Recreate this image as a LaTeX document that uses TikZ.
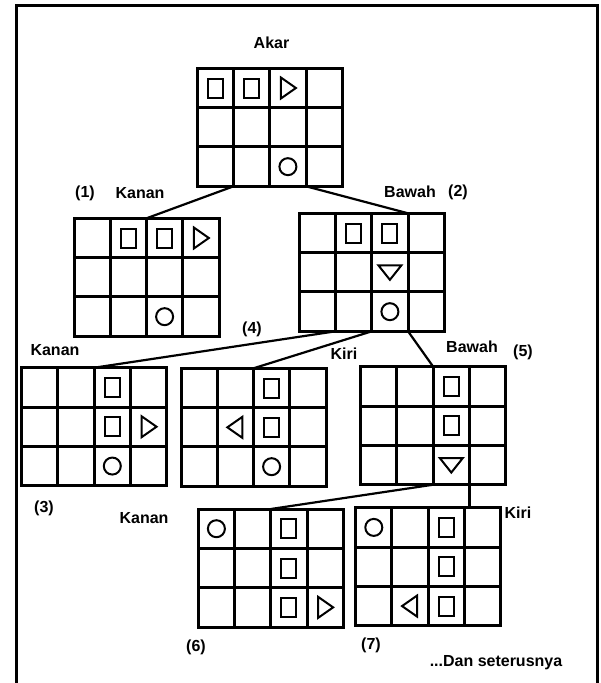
\documentclass[tikz,border=0pt]{standalone}
\usepackage{fontspec}
\setmainfont{Liberation Sans}
\tikzset{
  garis/.style={line width=2.2pt},
  petak/.style={line width=3pt},
  simbol/.style={line width=2pt},
  tulisan/.style={font=\fontsize{16}{19}\selectfont\bfseries, inner sep=0pt},
  papan/.pic={
    \draw[petak] (0,0) rectangle (145,118);
    \foreach \i in {1,2,3} \draw[petak] (\i*36.25,0) -- (\i*36.25,118);
    \foreach \j in {1,2} \draw[petak] (0,\j*39.33) -- (145,\j*39.33);
    \foreach \i in {0,...,4} {
      \coordinate (-t\i) at (\i*36.25,0);
      \coordinate (-b\i) at (\i*36.25,118);
    }
    \foreach \i in {0,...,3}
      \foreach \j in {0,1,2}
        \coordinate (-\i\j) at (\i*36.25+18.1,\j*39.33+19.7);
  },
  kotak/.pic={\draw[simbol] (-7.5,-9.5) rectangle (7.5,9.5);},
  bulat/.pic={\draw[simbol] (0,0) circle (8.5pt);},
  kekanan/.pic={\draw[simbol] (-7,-10.5) -- (8,0) -- (-7,10.5) -- cycle;},
  kekiri/.pic={\draw[simbol] (7,-10.5) -- (-8,0) -- (7,10.5) -- cycle;},
  kebawah/.pic={\draw[simbol] (-11.5,-7) -- (11.5,-7) -- (0,7.5) -- cycle;},
}
\begin{document}
\begin{tikzpicture}[x=1pt,y=-1pt]
\useasboundingbox (0,0) rectangle (600,683);
% bingkai
\draw[line width=3pt] (16.5,683) -- (16.5,5.5) -- (597.5,5.5) -- (597.5,683);

% papan-papan
\pic (akar) at (197.3,68.3) {papan};
\pic (satu) at (74,218.3) {papan};
\pic (dua) at (299.3,213.3) {papan};
\pic (tiga) at (21.7,367.7) {papan};
\pic (empat) at (181,368.3) {papan};
\pic (lima) at (360.7,366.7) {papan};
\pic (enam) at (198.3,509) {papan};
\pic (tujuh) at (355.7,507.7) {papan};

% isi
\pic at (akar-00) {kotak};
\pic at (akar-10) {kotak};
\pic at (akar-20) {kekanan};
\pic at (akar-22) {bulat};

\pic at (satu-10) {kotak};
\pic at (satu-20) {kotak};
\pic at (satu-30) {kekanan};
\pic at (satu-22) {bulat};

\pic at (dua-10) {kotak};
\pic at (dua-20) {kotak};
\pic at (dua-21) {kebawah};
\pic at (dua-22) {bulat};

\pic at (tiga-20) {kotak};
\pic at (tiga-21) {kotak};
\pic at (tiga-31) {kekanan};
\pic at (tiga-22) {bulat};

\pic at (empat-20) {kotak};
\pic at (empat-11) {kekiri};
\pic at (empat-21) {kotak};
\pic at (empat-22) {bulat};

\pic at (lima-20) {kotak};
\pic at (lima-21) {kotak};
\pic at (lima-22) {kebawah};

\pic at (enam-00) {bulat};
\pic at (enam-20) {kotak};
\pic at (enam-21) {kotak};
\pic at (enam-22) {kotak};
\pic at (enam-32) {kekanan};

\pic at (tujuh-00) {bulat};
\pic at (tujuh-20) {kotak};
\pic at (tujuh-21) {kotak};
\pic at (tujuh-12) {kekiri};
\pic at (tujuh-22) {kotak};

% garis penghubung
\draw[garis] (akar-b1) -- (satu-t2);
\draw[garis] (akar-b3) -- (dua-t3);
\draw[garis] (dua-b1) -- (tiga-t2);
\draw[garis] (dua-b2) -- (empat-t2);
\draw[garis] (dua-b3) -- (lima-t2);
\draw[garis] (lima-b2) -- (enam-t2);
\draw[garis] (lima-b3) -- (lima-b3 |- tujuh-t0);

% tulisan
\node[tulisan] (tAkar) at (271.5,43) {Akar};
\node[tulisan] (n1) at (85,193) {(1)};
\node[tulisan] (tKanan1) at (140,193) {Kanan};
\node[tulisan] (tBawah2) at (410,192) {Bawah};
\node[tulisan] (n2) at (458,192) {(2)};
\node[tulisan] (n4) at (252,329) {(4)};
\node[tulisan] (tKanan3) at (55,350) {Kanan};
\node[tulisan] (tKiri4) at (344,354) {Kiri};
\node[tulisan] (tBawah5) at (472,347) {Bawah};
\node[tulisan] (n5) at (523,352) {(5)};
\node[tulisan] (n3) at (44,508) {(3)};
\node[tulisan] (tKanan6) at (144,518) {Kanan};
\node[tulisan] (tKiri7) at (518,513) {Kiri};
\node[tulisan] (n6) at (196,647) {(6)};
\node[tulisan] (n7) at (371,645) {(7)};
\node[tulisan] (tLanjut) at (496,663) {...Dan seterusnya};
\end{tikzpicture}
\end{document}
